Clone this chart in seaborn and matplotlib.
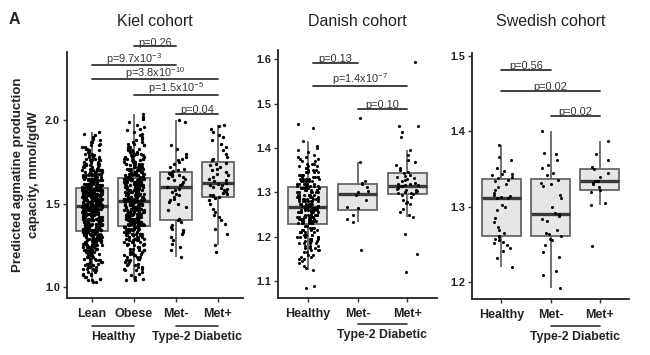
import numpy as np
import pandas as pd
import matplotlib
matplotlib.use("Agg")
import matplotlib.pyplot as plt
import matplotlib.transforms as mtransforms
import seaborn as sns

# ---------------- data ----------------
# Kiel cohort: large groups given as counts per 0.01 value bin
kiel_lean_start = 1.03
kiel_lean_counts = [2, 2, 2, 2, 2, 2, 2, 2,
                    3, 3, 3, 3, 3, 3, 3, 3, 3, 3,
                    5, 5, 6, 6, 6, 6, 6, 6, 7, 7, 7, 6, 6,
                    8, 8, 8, 8, 8, 8, 8, 9, 9, 9, 9, 8, 8, 8, 9,
                    11, 11, 12, 11, 12, 11, 12, 11, 12, 11, 11,
                    8, 8, 8, 7, 7, 7, 6, 6, 6, 5, 6,
                    4, 4, 4, 4, 3, 3, 3, 3, 2, 2,
                    2, 2, 2, 2, 2, 1, 2, 1, 1, 1, 1, 1, 1]
kiel_obese_start = 1.04
kiel_obese_counts = [2, 1, 1, 1, 1, 1, 2, 2, 2,
                     2, 2, 2, 3, 3, 3, 3, 3, 3, 3, 3, 3, 3,
                     4, 4, 4, 4, 5, 5, 5, 5, 5, 5, 5,
                     7, 7, 7, 7, 7, 7, 6, 6, 6, 7, 7, 7, 6, 6, 7,
                     7, 7, 7, 7, 7, 7, 7, 7, 7, 7, 7, 7, 8, 8,
                     6, 6, 6, 6, 5, 5, 5, 5, 5, 4,
                     4, 4, 3, 3, 3, 3, 3, 2, 2, 2,
                     2, 2, 1, 1, 1, 1, 1, 1, 1, 1, 1, 1, 0, 1, 0, 1, 1, 0, 1]
kiel_metm = [2.00, 1.99, 1.85, 1.83, 1.80, 1.78, 1.77, 1.76, 1.75, 1.74, 1.72, 1.71, 1.70, 1.695,
             1.688, 1.685, 1.68, 1.675, 1.67, 1.665, 1.66, 1.655, 1.65, 1.64, 1.63, 1.62, 1.61, 1.60,
             1.59, 1.585, 1.57, 1.56, 1.55, 1.54, 1.53, 1.52, 1.51, 1.50, 1.48, 1.46, 1.41, 1.40,
             1.39, 1.37, 1.36, 1.35, 1.34, 1.33, 1.32, 1.30, 1.28, 1.26, 1.24, 1.22, 1.18]
kiel_metp = [1.97, 1.965, 1.95, 1.93, 1.91, 1.90, 1.88, 1.86, 1.84, 1.82, 1.80, 1.78, 1.77, 1.76,
             1.745, 1.74, 1.73, 1.72, 1.71, 1.70, 1.69, 1.68, 1.67, 1.66, 1.65, 1.64, 1.635, 1.625,
             1.62, 1.615, 1.61, 1.60, 1.595, 1.59, 1.58, 1.57, 1.565, 1.56, 1.555, 1.55, 1.545, 1.54,
             1.535, 1.52, 1.50, 1.47, 1.45, 1.43, 1.42, 1.40, 1.38, 1.35, 1.32, 1.25, 1.21]

# Danish cohort: healthy group as counts per 0.005 value bin
dk_healthy_start = 1.085
dk_healthy_counts = [1, 1, 0, 0, 0, 0, 0, 0, 1,
                     1, 1, 1, 1,
                     2, 2, 2, 2,
                     3, 3, 3,
                     4, 4, 4,
                     5, 5, 5, 5,
                     3, 3,
                     7, 8, 8, 8, 8, 8, 8, 7,
                     7, 7, 7, 7, 7, 7, 7, 7, 6,
                     6, 6, 5, 5, 5, 4, 4, 4, 3, 3, 3, 2, 2, 2, 1, 1, 1, 1, 1, 0, 1,
                     0, 0, 0, 0, 0, 1, 0, 1]
dk_metm = [1.170, 1.233, 1.240, 1.250, 1.265, 1.268, 1.282, 1.295,
           1.300, 1.303, 1.312, 1.318, 1.322, 1.326, 1.369, 1.467]
dk_metp = [1.595, 1.450, 1.449, 1.437, 1.425,
           1.395, 1.385, 1.372, 1.368, 1.362, 1.355, 1.350, 1.347,
           1.343, 1.340, 1.338, 1.335, 1.332, 1.330, 1.328, 1.325, 1.322, 1.320, 1.318, 1.317, 1.316,
           1.315, 1.314, 1.312, 1.310, 1.308, 1.306, 1.305, 1.303, 1.301, 1.300, 1.299, 1.298, 1.297,
           1.295, 1.290, 1.282, 1.278, 1.276, 1.275, 1.262, 1.256, 1.250, 1.245, 1.207, 1.162, 1.121]

# Swedish cohort
se_healthy = [1.382, 1.366, 1.362, 1.352, 1.348, 1.344, 1.343, 1.342, 1.340, 1.338,
              1.336, 1.334, 1.330, 1.326, 1.322, 1.318, 1.316, 1.314, 1.313, 1.312,
              1.312, 1.302, 1.300, 1.296, 1.286, 1.280, 1.274, 1.270, 1.266, 1.262,
              1.260, 1.258, 1.256, 1.254, 1.252, 1.250, 1.246, 1.242, 1.232, 1.220]
se_metm = [1.400, 1.372, 1.370, 1.362, 1.355, 1.352, 1.345, 1.342,
           1.336, 1.332, 1.330, 1.328, 1.316, 1.312, 1.300, 1.292,
           1.290, 1.288, 1.284, 1.282, 1.270, 1.266, 1.264, 1.262,
           1.258, 1.256, 1.250, 1.240, 1.234, 1.215, 1.210, 1.192]
se_metp = [1.387, 1.370, 1.362, 1.353, 1.350, 1.345, 1.340, 1.335, 1.334,
           1.332, 1.330, 1.326, 1.322, 1.320, 1.305, 1.303, 1.248]

kiel_order = ["Lean", "Obese", "Met-", "Met+"]
dk_order = ["Healthy", "Met-", "Met+"]
se_order = ["Healthy", "Met-", "Met+"]

kiel_sigs = [(1, 2, 2.443, "p=0.26"),
             (0, 2, 2.329, "p=9.7x10$^{-3}$"),
             (0, 3, 2.245, "p=3.8x10$^{-10}$"),
             (1, 3, 2.150, "p=1.5x10$^{-5}$"),
             (2, 3, 2.036, "p=0.04")]
dk_sigs = [(0.1, 1, 1.591, "p=0.13"),
           (0.1, 2, 1.540, "p=1.4x10$^{-7}$"),
           (1, 2, 1.489, "p=0.10")]
se_sigs = [(0, 1, 1.4815, "p=0.56"),
           (0, 2, 1.454, "p=0.02"),
           (1, 2, 1.4206, "p=0.02")]


def binned(start, counts, step):
    grid = np.round(start + step * np.arange(len(counts)), 3)
    return np.repeat(grid, counts)


def frame(order, series):
    g, v = [], []
    for name, vals in zip(order, series):
        g += [name] * len(vals)
        v += list(vals)
    return pd.DataFrame({"group": g, "value": v})


kiel_df = frame(kiel_order, [binned(kiel_lean_start, kiel_lean_counts, 0.01),
                             binned(kiel_obese_start, kiel_obese_counts, 0.01),
                             kiel_metm, kiel_metp])
dk_df = frame(dk_order, [binned(dk_healthy_start, dk_healthy_counts, 0.005), dk_metm, dk_metp])
se_df = frame(se_order, [se_healthy, se_metm, se_metp])

# ---------------- style ----------------
sns.set_style("ticks")
plt.rcParams["font.family"] = ["Liberation Sans", "DejaVu Sans"]
plt.rcParams["mathtext.default"] = "regular"
plt.rcParams["mathtext.fontset"] = "custom"
plt.rcParams["mathtext.rm"] = "Liberation Sans"
np.random.seed(3)

fig = plt.figure(figsize=(6.5, 3.55), dpi=100)
W, H = 650.0, 355.0


def add_ax(left, right, top, bottom):
    return fig.add_axes([left / W, 1 - bottom / H, (right - left) / W, (bottom - top) / H])


ax_k = add_ax(67, 243, 52, 298)
ax_d = add_ax(278, 437, 50, 298)
ax_s = add_ax(472, 629, 53, 299)

TXT = "#222222"


def panel(ax, df, order, ylim, yticks, jitter, msize, sigs, title, top, bottom):
    sns.boxplot(data=df, x="group", y="value", order=order, ax=ax,
                color="#e6e6e6", saturation=1, width=0.78, linewidth=1.3,
                linecolor="#666666", showfliers=False, showcaps=False,
                medianprops=dict(color="#3a3a3a", linewidth=2.4))
    sns.stripplot(data=df, x="group", y="value", order=order, ax=ax,
                  color="#000000", size=msize, jitter=jitter, linewidth=0, zorder=4)
    ax.set_xlim(-0.6, len(order) - 0.4)
    ax.set_ylim(*ylim)
    ax.set_yticks(yticks)
    ax.set_yticklabels([f"{t:.1f}" for t in yticks])
    ax.set_xlabel("")
    ax.set_ylabel("")
    sns.despine(ax=ax)
    for s in ("left", "bottom"):
        ax.spines[s].set_linewidth(1.3)
        ax.spines[s].set_color("#222222")
    ax.tick_params(axis="both", length=3, width=1, color="#333333")
    ax.tick_params(axis="x", labelsize=9, pad=4, labelcolor=TXT)
    ax.tick_params(axis="y", labelsize=7.8, pad=2, labelcolor=TXT)
    for lab in ax.get_xticklabels() + ax.get_yticklabels():
        lab.set_fontweight("bold")
    for x0, x1, y, lab in sigs:
        ax.plot([x0, x1], [y, y], color="#333333", lw=1.3, clip_on=False, zorder=5)
        ax.annotate(lab, xy=((x0 + x1) / 2, y), xytext=(0, -0.8), textcoords="offset points",
                    ha="center", va="bottom", fontsize=7.9, color="#333333",
                    annotation_clip=False)
    ax.text(0.5, (bottom - 21) / (bottom - top), title, transform=ax.transAxes,
            ha="center", va="center", fontsize=11.5, color=TXT)


panel(ax_k, kiel_df, kiel_order, (0.934, 2.41), [1.0, 1.5, 2.0], 0.24, 2.4,
      kiel_sigs, "Kiel cohort", 52, 298)
panel(ax_d, dk_df, dk_order, (1.062, 1.621), [1.1, 1.2, 1.3, 1.4, 1.5, 1.6], 0.22, 2.2,
      dk_sigs, "Danish cohort", 50, 298)
panel(ax_s, se_df, se_order, (1.178, 1.504), [1.2, 1.3, 1.4, 1.5], 0.22, 2.2,
      se_sigs, "Swedish cohort", 53, 299)


def group_label(ax, x0, x1, yline, ytext, label):
    tr = mtransforms.blended_transform_factory(ax.transData, ax.transAxes)
    ax.plot([x0, x1], [yline, yline], color="#333333", lw=1.2, transform=tr, clip_on=False)
    ax.text((x0 + x1) / 2, ytext, label, transform=tr, ha="center", va="center",
            fontsize=8.8, fontweight="bold", color=TXT)


group_label(ax_k, 0, 1, -0.114, -0.159, "Healthy")
group_label(ax_k, 2, 3, -0.114, -0.159, "Type-2 Diabetic")
group_label(ax_d, 1, 2, -0.105, -0.149, "Type-2 Diabetic")
group_label(ax_s, 1, 2, -0.110, -0.154, "Type-2 Diabetic")

fig.text(26 / W, 1 - 175 / H, "Predicted agmatine production\ncapacity, mmol/gdW",
         rotation=90, ha="center", va="center", fontsize=9.5, fontweight="bold",
         linespacing=1.35, color=TXT)
fig.text(14 / W, 1 - 20 / H, "A", ha="center", va="center", fontsize=11.5,
         fontweight="bold", color=TXT)

fig.savefig("out.png", dpi=100)
